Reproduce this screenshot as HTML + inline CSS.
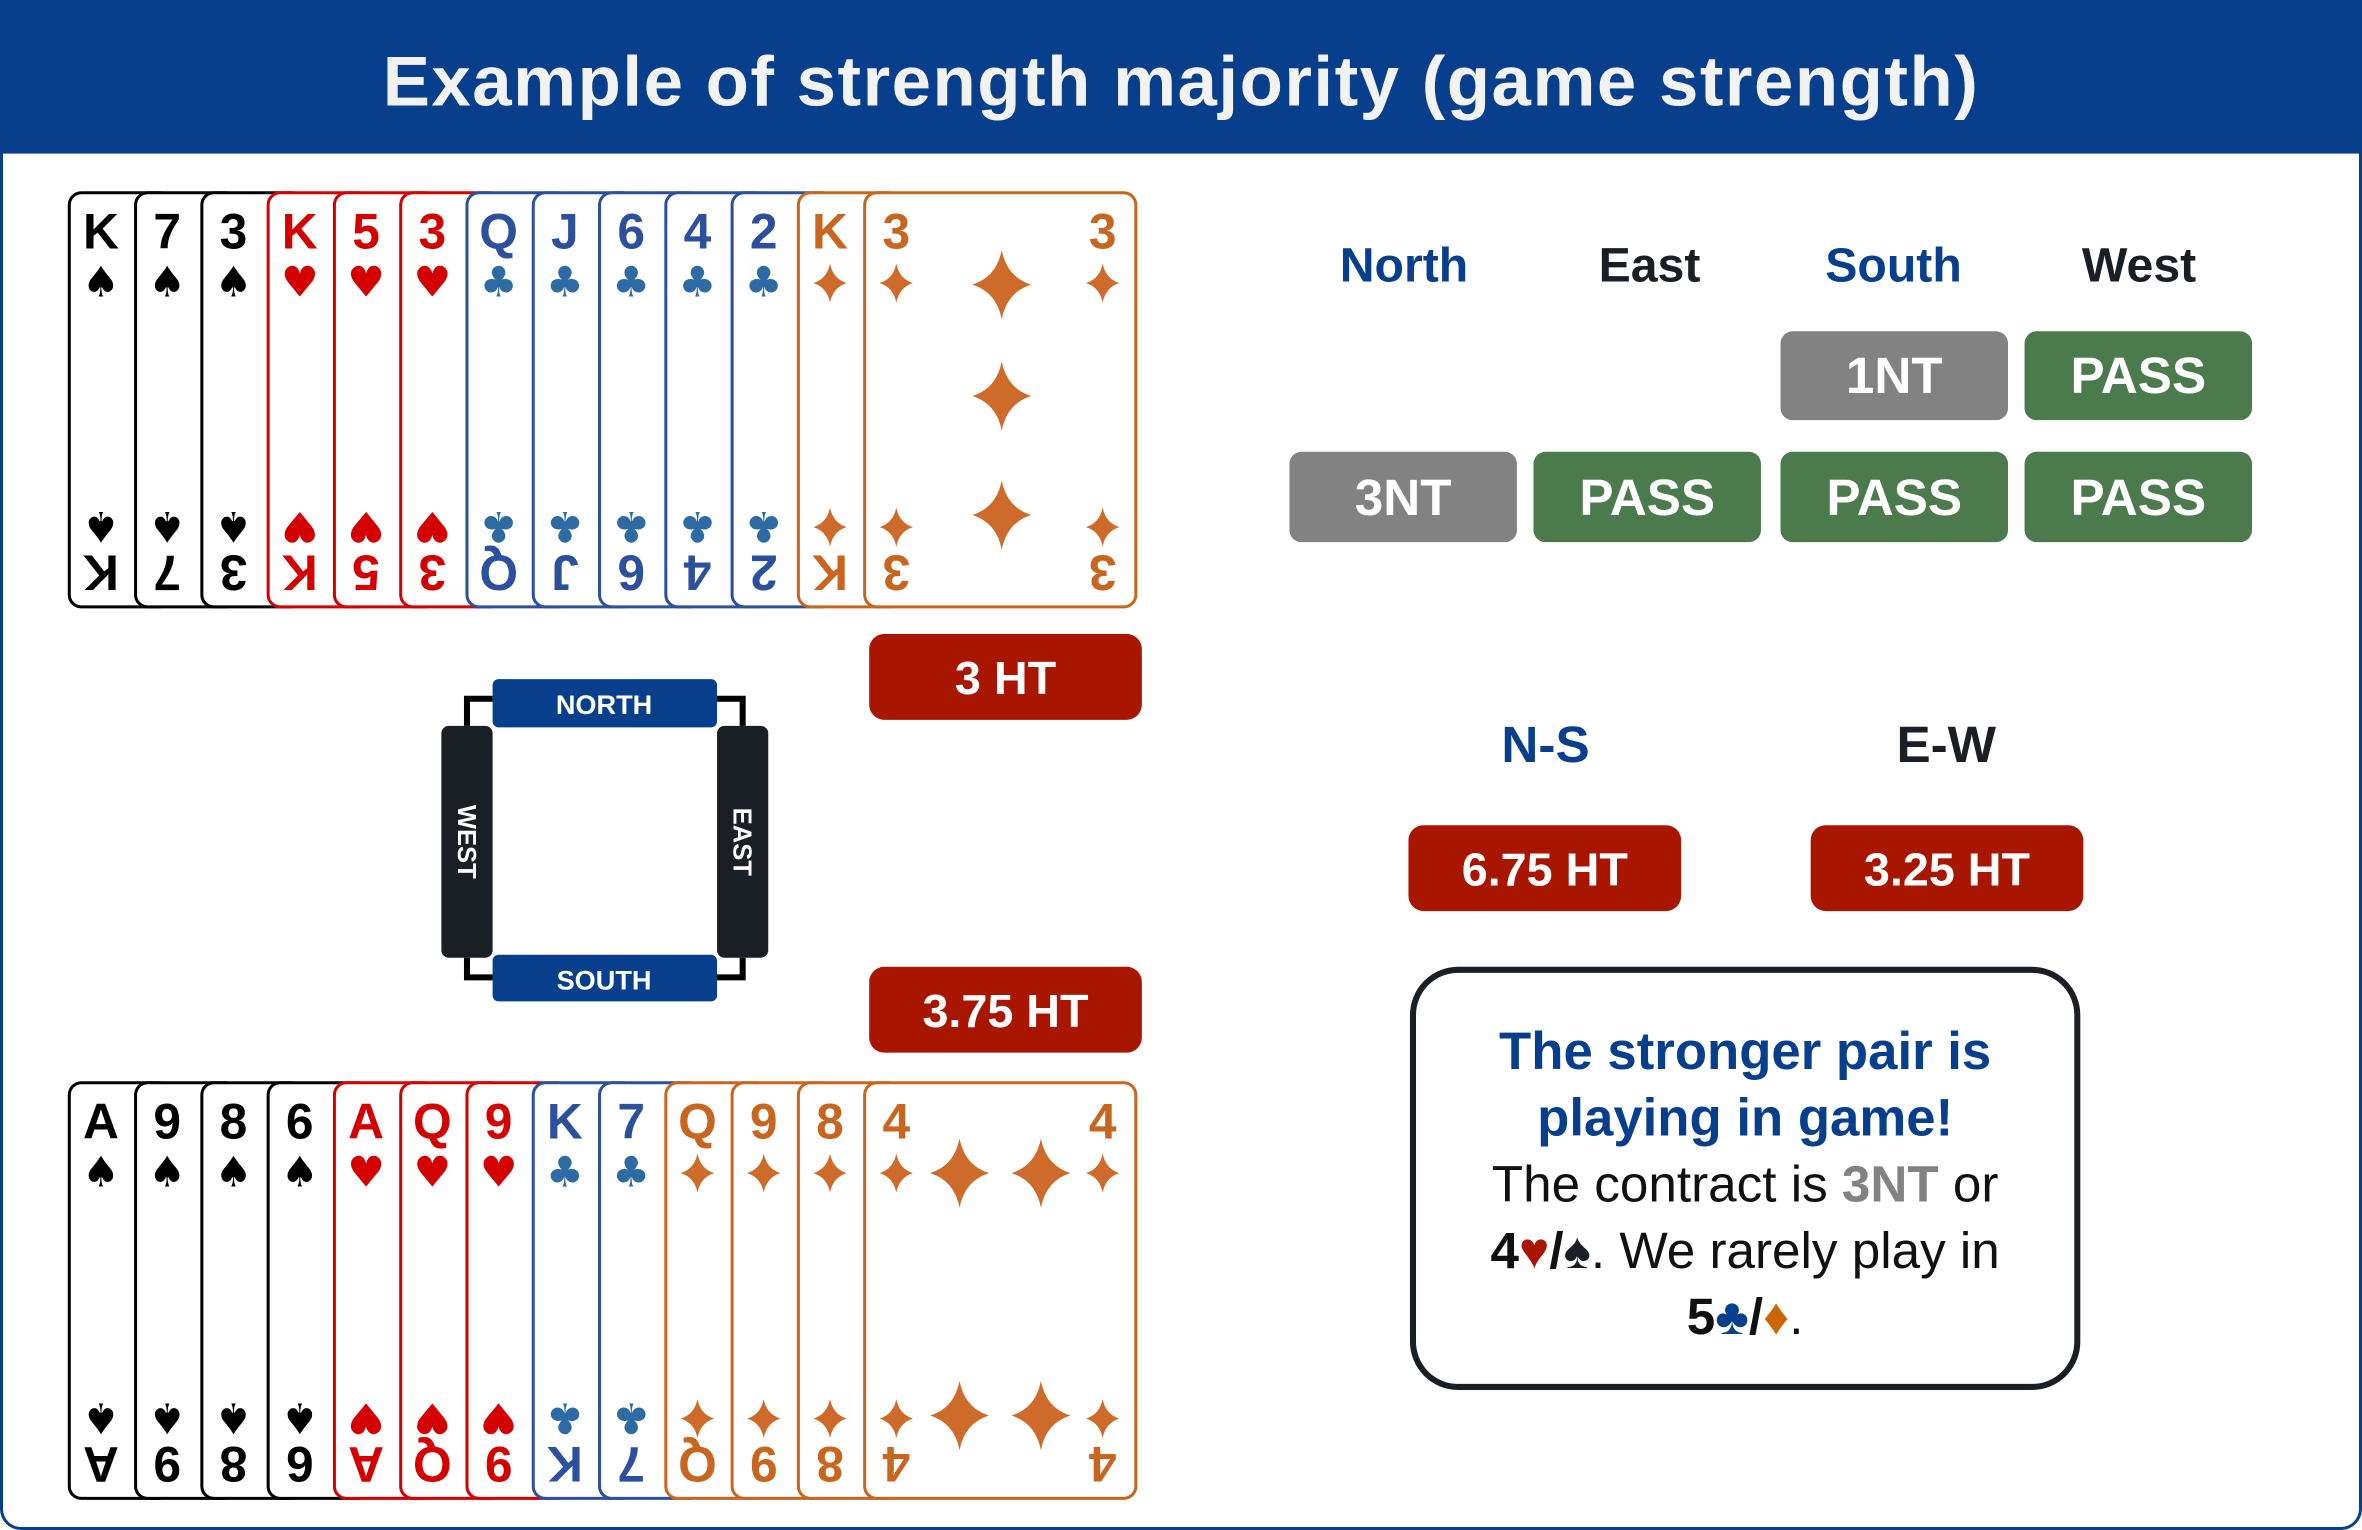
<!DOCTYPE html>
<html><head><meta charset="utf-8">
<style>
html,body{margin:0;padding:0;background:#fff;width:2362px;height:1530px;overflow:hidden}
#w{position:absolute;left:0;top:0;width:1568px;height:1016px;transform:scale(1.50638,1.50591);transform-origin:0 0;font-family:"Liberation Sans","DejaVu Sans",sans-serif}
.abs{position:absolute}
#frame{left:0;top:0;width:1564px;height:1012px;border:2px solid #073f8c;border-radius:26px 26px 14px 14px;overflow:hidden}
#hdr{left:0;top:0;width:1568px;height:102px;background:#073f8c;color:#f2f2f2;font-weight:bold;font-size:47px;text-align:center;line-height:108px;letter-spacing:1px}
.card{position:absolute;background:#fff;border:2px solid;border-radius:9px;box-sizing:border-box}
.rk{position:absolute;font-weight:bold;font-size:33px;line-height:33px;width:34px;text-align:center}
.st{position:absolute;font-size:27px;line-height:27px;width:34px;text-align:center;font-family:"DejaVu Sans",sans-serif}
.rot{transform:rotate(180deg)}
.btn{position:absolute;border-radius:8px;color:#fff;font-weight:bold;text-align:center;font-size:34px}
.lbl{position:absolute;font-weight:bold;font-size:32px;text-align:center;width:160px}
.red{position:absolute;background:#a81600;color:#fff;font-weight:bold;font-size:31px;text-align:center;border-radius:10px;width:181px;height:57px;line-height:59px}
</style></head><body>
<div id="w">
<div id="frame" class="abs"></div>
<div id="hdr" class="abs">Example of strength majority (game strength)</div>
<div id="cards"></div>

<svg class="abs" style="left:280px;top:440px" width="250" height="240" viewBox="280 440 250 240">
<path d="M310,482 V464 H327 M476,464 H493 V482 M310,636 V649 H327 M476,649 H493 V636" fill="none" stroke="#000" stroke-width="4"/>
<rect x="327" y="451" width="149" height="32" rx="4" fill="#073f8c"/>
<rect x="327" y="634" width="149" height="31" rx="4" fill="#073f8c"/>
<rect x="293" y="482" width="34" height="154" rx="5" fill="#1a1f26"/>
<rect x="476" y="482" width="34" height="154" rx="5" fill="#1a1f26"/>
<text x="401" y="474" fill="#fff" font-family="Liberation Sans" font-weight="bold" font-size="18" text-anchor="middle">NORTH</text>
<text x="401" y="657" fill="#fff" font-family="Liberation Sans" font-weight="bold" font-size="18" text-anchor="middle">SOUTH</text>
<text transform="translate(304,559) rotate(90)" fill="#fff" font-family="Liberation Sans" font-weight="bold" font-size="17" text-anchor="middle">WEST</text>
<text transform="translate(487,559) rotate(90)" fill="#fff" font-family="Liberation Sans" font-weight="bold" font-size="17" text-anchor="middle">EAST</text>
</svg>
<div class="red" style="left:577px;top:421px">3 HT</div>
<div class="red" style="left:577px;top:642px">3.75 HT</div>

<div class="lbl" style="left:852px;top:158px;color:#073f8c">North</div>
<div class="lbl" style="left:1015px;top:158px;color:#1a1f26">East</div>
<div class="lbl" style="left:1177px;top:158px;color:#073f8c">South</div>
<div class="lbl" style="left:1340px;top:158px;color:#1a1f26">West</div>
<div class="btn" style="left:1182px;top:220px;width:151px;height:59px;line-height:61px;background:#828282">1NT</div>
<div class="btn" style="left:1344px;top:220px;width:151px;height:59px;line-height:61px;background:#4b7a4d">PASS</div>
<div class="btn" style="left:856px;top:300px;width:151px;height:60px;line-height:62px;background:#828282">3NT</div>
<div class="btn" style="left:1018px;top:300px;width:151px;height:60px;line-height:62px;background:#4b7a4d">PASS</div>
<div class="btn" style="left:1182px;top:300px;width:151px;height:60px;line-height:62px;background:#4b7a4d">PASS</div>
<div class="btn" style="left:1344px;top:300px;width:151px;height:60px;line-height:62px;background:#4b7a4d">PASS</div>

<div class="lbl" style="left:946px;top:476px;color:#073f8c;font-size:34px">N-S</div>
<div class="lbl" style="left:1212px;top:476px;color:#1a1f26;font-size:34px">E-W</div>
<div class="red" style="left:935px;top:548px">6.75 HT</div>
<div class="red" style="left:1202px;top:548px">3.25 HT</div>

<div class="abs" style="left:936px;top:642px;width:445px;height:281px;box-sizing:border-box;border:4px solid #1a1f26;border-radius:32px;text-align:center;font-size:34px;line-height:44px;padding-top:31px;color:#111">
<div style="color:#073f8c;font-weight:bold;font-size:35px">The stronger pair is<br>playing in game!</div>
<div>The contract is <b style="color:#828282">3NT</b> or<br><b>4<span style="color:#a81600">♥</span>/<span style="color:#1a1f26">♠</span></b>. We rarely play in<br><b>5<span style="color:#073f8c">♣</span>/<span style="color:#cc6600">♦</span></b>.</div>
</div>
</div>
<script>
var C={s:['#000','#000','♠'],h:['#d40000','#d40000','♥'],c:['#2c4f9e','#2e6aa3','♣'],d:['#c8661f','#cf6b2a','♦']};
function dia(cx,cy,s,col){return '<svg class="abs" style="left:'+(cx-s/2)+'px;top:'+(cy-s/2)+'px" width="'+s+'" height="'+s+'" viewBox="-1 -1 2 2"><path d="M0,-1 Q0.15,-0.22 0.85,0 Q0.15,0.22 0,1 Q-0.15,0.22 -0.85,0 Q-0.15,-0.22 0,-1Z" fill="'+col+'"/></svg>';}
function suitGlyph(su,x,y,sz,rot){
  if(su=='d') return dia(x+17,y+sz/2,sz-2,C.d[1]);
  return '<div class="st'+(rot?' rot':'')+'" style="left:'+x+'px;top:'+y+'px;color:'+C[su][1]+';font-size:'+sz+'px">'+C[su][2]+'</div>';
}
function hand(list,tp,h,last){
  var out='',x=45;
  for(var i=0;i<list.length;i++){
    var r=list[i][0],su=list[i][1],w=(i==list.length-1)?182:70;
    var col=C[su][0];
    out+='<div class="card" style="left:'+x+'px;top:'+tp+'px;width:'+w+'px;height:'+h+'px;border-color:'+col+'">';
    out+='<div class="rk" style="left:3px;top:8px;color:'+col+'">'+r+'</div>';
    out+=suitGlyph(su,3,45,28,false);
    out+='<div class="rk rot" style="left:3px;top:'+(h-42)+'px;color:'+col+'">'+r+'</div>';
    out+=suitGlyph(su,3,h-70,28,true);
    if(i==list.length-1){
      out+='<div class="rk" style="left:140px;top:8px;color:'+col+'">'+r+'</div>';
      out+=suitGlyph(su,140,45,28,false);
      out+='<div class="rk rot" style="left:140px;top:'+(h-42)+'px;color:'+col+'">'+r+'</div>';
      out+=suitGlyph(su,140,h-70,28,true);
      for(var k=0;k<last.length;k++) out+=dia(last[k][0]-x,last[k][1]-tp,46,C.d[1]);
    }
    out+='</div>';
    x+=44;
  }
  return out;
}
var topH=hand([['K','s'],['7','s'],['3','s'],['K','h'],['5','h'],['3','h'],['Q','c'],['J','c'],['6','c'],['4','c'],['2','c'],['K','d'],['3','d']],127,277,[[663,187],[663,261],[663,340]]);
var botH=hand([['A','s'],['9','s'],['8','s'],['6','s'],['A','h'],['Q','h'],['9','h'],['K','c'],['7','c'],['Q','d'],['9','d'],['8','d'],['4','d']],718,278,[[635,777],[689,777],[635,938],[689,938]]);
document.getElementById('cards').innerHTML=topH+botH;
</script>
</body></html>
